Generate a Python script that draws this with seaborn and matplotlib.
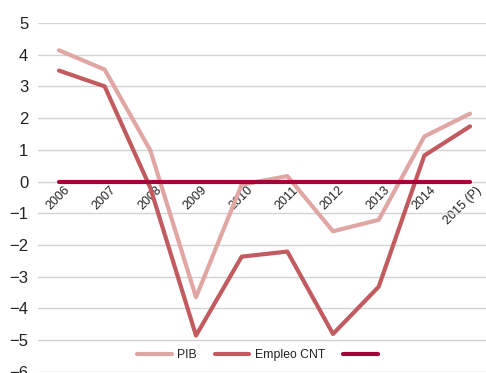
import matplotlib
matplotlib.use("Agg")
import matplotlib.pyplot as plt
import matplotlib.transforms as mtransforms
import pandas as pd
import seaborn as sns

years = ["2006", "2007", "2008", "2009", "2010", "2011", "2012", "2013", "2014", "2015 (P)"]
pib = [4.14, 3.53, 0.98, -3.65, -0.1, 0.17, -1.57, -1.21, 1.42, 2.14]
empleo_cnt = [3.5, 3.0, -0.2, -4.86, -2.37, -2.21, -4.81, -3.32, 0.82, 1.74]
referencia = [0, 0, 0, 0, 0, 0, 0, 0, 0, 0]

series_names = ["PIB", "Empleo CNT", " "]
series_colors = ["#E0A6A3", "#C25B5F", "#A5003A"]
y_ticks = [5, 4, 3, 2, 1, 0, -1, -2, -3, -4, -5, -6]

frames = []
for name, vals in zip(series_names, [pib, empleo_cnt, referencia]):
    frames.append(pd.DataFrame({"x": range(len(years)), "valor": vals, "serie": name}))
df = pd.concat(frames, ignore_index=True)

sns.set_style("white")
plt.rcParams["font.family"] = ["Liberation Sans", "DejaVu Sans"]

fig = plt.figure(figsize=(4.86, 3.73), dpi=100)
ax = fig.add_axes([38 / 486, 1.3 / 373, 448 / 486, 348.7 / 373])

sns.lineplot(data=df, x="x", y="valor", hue="serie", hue_order=series_names,
             palette=series_colors, linewidth=3.0, ax=ax, legend=False)

ax.set_xlim(-0.46, 9.35)
ax.set_ylim(-6, 5)
ax.set_yticks(y_ticks)
ax.set_yticklabels([str(v).replace("-", "\u2212") for v in y_ticks], fontsize=12, color="#222222")
ax.yaxis.grid(True, color="#D2D2D2", linewidth=1.0)
ax.xaxis.grid(False)
ax.set_axisbelow(True)
for side in ["left", "right", "top"]:
    ax.spines[side].set_visible(False)
ax.spines["bottom"].set_position(("data", 0))
ax.spines["bottom"].set_visible(False)
ax.tick_params(axis="y", length=0, pad=7)
ax.tick_params(axis="x", length=0, pad=2)

ax.set_xticks(range(len(years)))
ax.set_xticklabels(years, rotation=45, ha="right", va="top", rotation_mode="anchor",
                   fontsize=9, color="#222222")
shift = mtransforms.ScaledTranslation(5 / 100, 0, fig.dpi_scale_trans)
for lbl in ax.get_xticklabels():
    lbl.set_transform(lbl.get_transform() + shift)

ax.set_xlabel("")
ax.set_ylabel("")

handles = ax.get_lines()[:3]
ax.legend(handles, series_names, loc="center", bbox_to_anchor=(0.5, 0.048), ncol=3,
          frameon=False, fontsize=8.8, handlelength=2.8, handletextpad=0.45,
          columnspacing=1.5, labelcolor="#222222")

fig.savefig("out.png", dpi=100)
